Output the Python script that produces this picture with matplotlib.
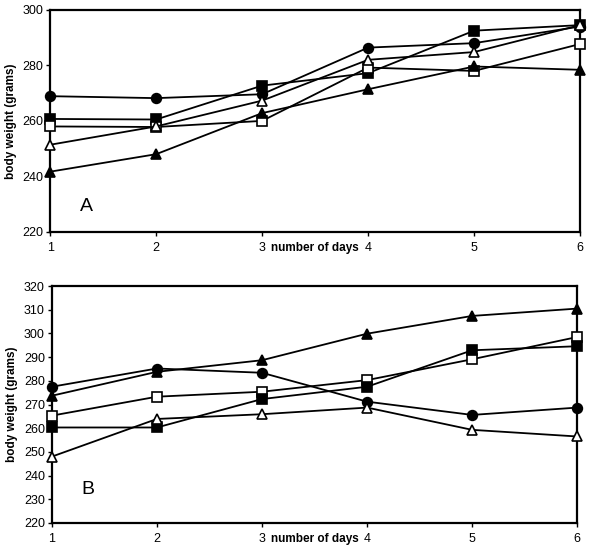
import matplotlib.pyplot as plt

plt.rcParams['font.family'] = ['Liberation Sans', 'DejaVu Sans']

days = [1, 2, 3, 4, 5, 6]

# panel A
a_circle = [268.9, 268.2, 269.6, 286.4, 288.0, 294.0]
a_fsquare = [260.7, 260.5, 272.7, 277.2, 292.5, 294.5]
a_osquare = [258.0, 257.8, 260.0, 279.2, 278.0, 287.7]
a_otri = [251.4, 258.0, 267.3, 282.0, 284.8, 294.5]
a_ftri = [241.7, 248.0, 262.8, 271.4, 279.6, 278.4]

# panel B
b_circle = [277.5, 285.2, 283.4, 271.2, 265.6, 268.7]
b_ftri = [273.7, 283.8, 288.7, 299.9, 307.4, 310.5]
b_osquare = [265.3, 273.3, 275.4, 280.3, 289.1, 298.5]
b_fsquare = [260.3, 260.3, 272.3, 277.5, 292.9, 294.6]
b_otri = [248.0, 263.9, 265.9, 268.7, 259.3, 256.5]

a_yticks = [220, 240, 260, 280, 300]
b_yticks = [220, 230, 240, 250, 260, 270, 280, 290, 300, 310, 320]

fig = plt.figure(figsize=(5.89, 5.47), dpi=100)
axA = fig.add_axes([0.085, 0.576, 0.900, 0.406])
axB = fig.add_axes([0.088, 0.044, 0.892, 0.433])


def serie(ax, y, marker, filled):
    ax.plot(days, y, color='black', lw=1.3, marker=marker, ms=7,
            mfc='black' if filled else 'white', mec='black', mew=1.2,
            clip_on=False, zorder=3)


def gaya(ax, yticks, huruf, yhuruf):
    ax.set_xlim(1, 6)
    ax.set_ylim(yticks[0], yticks[-1])
    ax.set_yticks(yticks)
    ax.set_xticks(days)
    ax.set_xticklabels(['1', '2', '3', '4', '5', '6'])
    ax.tick_params(axis='both', direction='out', length=3, width=1, labelsize=9)
    ax.tick_params(axis='x', pad=4)
    ax.tick_params(axis='y', pad=2)
    for s in ax.spines.values():
        s.set_linewidth(1.6)
    ax.set_ylabel('body weight (grams)', fontsize=8.5, fontweight='bold', labelpad=4)
    # teks "number of days" sejajar dengan label tick
    ax.annotate('number of days', xy=(3.085, 0), xycoords=ax.get_xaxis_transform(),
                xytext=(0, -7.2), textcoords='offset points',
                fontsize=8.5, fontweight='bold', va='top', ha='left')
    ax.text(1.28, yhuruf, huruf, fontsize=14, va='center')


serie(axA, a_circle, 'o', True)
serie(axA, a_fsquare, 's', True)
serie(axA, a_osquare, 's', False)
serie(axA, a_otri, '^', False)
serie(axA, a_ftri, '^', True)
gaya(axA, a_yticks, 'A', 229)

serie(axB, b_circle, 'o', True)
serie(axB, b_ftri, '^', True)
serie(axB, b_osquare, 's', False)
serie(axB, b_fsquare, 's', True)
serie(axB, b_otri, '^', False)
gaya(axB, b_yticks, 'B', 234)

fig.savefig('out.png', dpi=100)
